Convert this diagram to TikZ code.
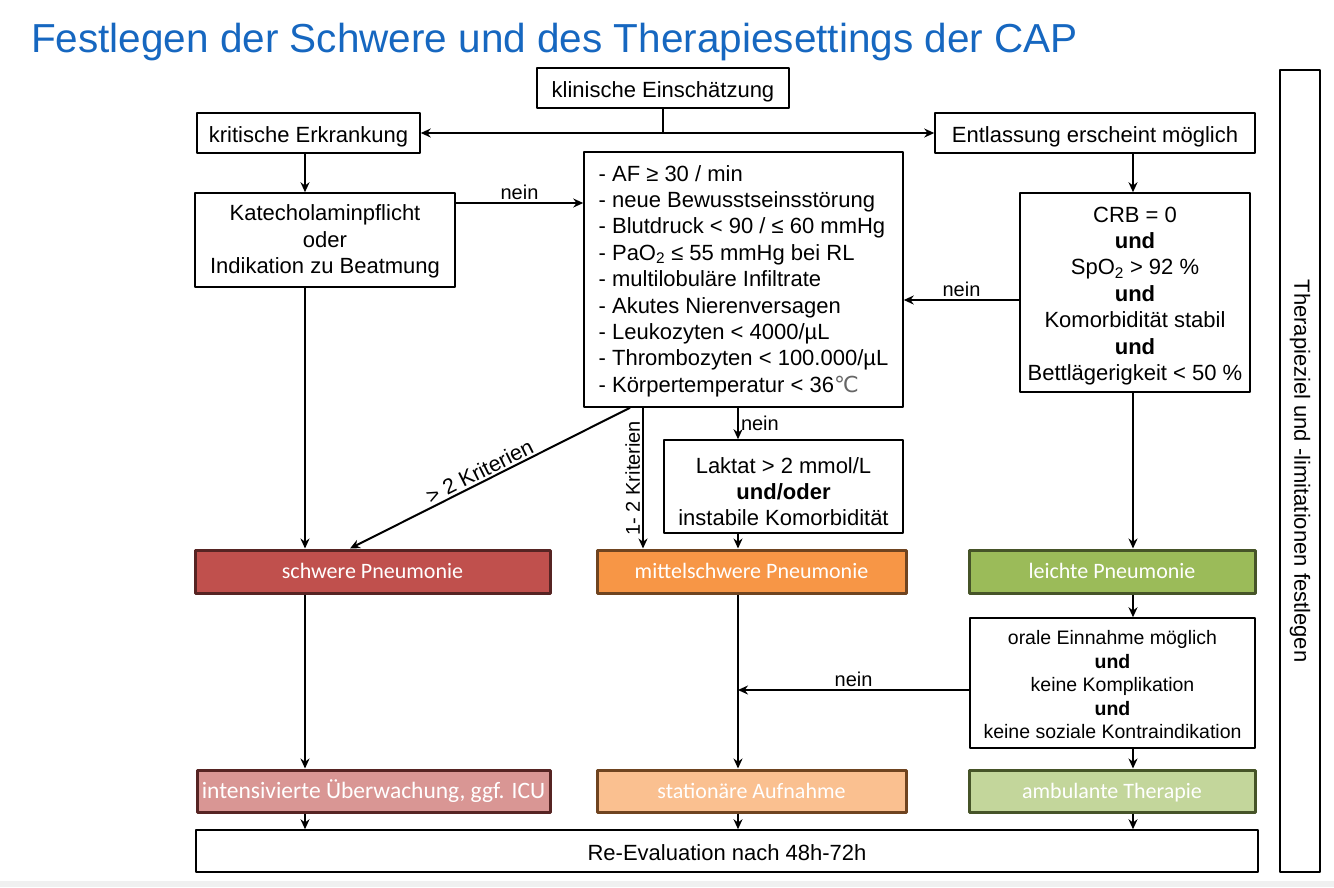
\documentclass[tikz,border=0pt]{standalone}
\usepackage{fontspec}
\setmainfont{Liberation Sans}
\newfontfamily\calibri{Carlito}
\newfontfamily\dejavu{DejaVu Sans}
\usetikzlibrary{arrows.meta}
\definecolor{titelblau}{RGB}{22,103,192}
\definecolor{rotA}{RGB}{192,80,77}
\definecolor{rotB}{RGB}{217,150,148}
\definecolor{orangeA}{RGB}{247,150,70}
\definecolor{orangeB}{RGB}{250,192,144}
\definecolor{gruenA}{RGB}{155,187,89}
\definecolor{gruenB}{RGB}{195,214,155}
\begin{document}
\begin{tikzpicture}[x=1pt,y=-1pt,line join=round,>={Stealth[length=10pt,width=9pt]},line width=2pt]
			\tikzset{box/.style={draw,line width=1.5pt,inner sep=0pt,align=center,font=\fontsize{22}{26.4}\selectfont},
				zeile/.style={text height=20pt,text depth=2pt},
				farbbox/.style 2 args={draw=#1!45!black,fill=#2,line width=3pt,inner sep=0pt,text=white,text height=17pt,text depth=3pt,font=\calibri\fontsize{22}{26}\selectfont},
				lbl/.style={font=\fontsize{20}{22}\selectfont,inner sep=2pt}}
			\useasboundingbox (0,0) rectangle (1334,887);
			\fill[black!6] (0,881) rectangle (1334,887);
			\node[anchor=base west,text=titelblau,font=\fontsize{40.5}{44}\selectfont,inner sep=0pt] (titel) at (30,52) {Festlegen der Schwere und des Therapiesettings der CAP};
			% obere Reihe
			\node[box,zeile,minimum width=252,minimum height=40] (klin) at (663,88) {klinische Einschätzung};
			\node[box,zeile,minimum width=223,minimum height=40] (krit) at (308.5,133) {kritische Erkrankung};
			\node[box,zeile,minimum width=320,minimum height=40] (entl) at (1095,133) {Entlassung erscheint möglich};
			\node[box,minimum width=260,minimum height=94] (kat) at (325,240) {\rule{0pt}{19pt}Katecholaminpflicht\\oder\\Indikation zu Beatmung};
			\node[box,minimum width=319,minimum height=255,align=left] (crit) at (743.5,279.5) {\rule{0pt}{19pt}- AF ≥ 30 / min\\- neue Bewusstseinsstörung\\- Blutdruck < 90 / ≤ 60 mmHg\\- PaO\textsubscript{2} ≤ 55 mmHg bei RL\\- multilobuläre Infiltrate\\- Akutes Nierenversagen\\- Leukozyten < 4000/µL\\- Thrombozyten < 100.000/µL\\- Körpertemperatur < 36{\dejavu\color{black!60}℃}};
			\node[box,minimum width=230,minimum height=199] (crb) at (1135,292.5) {\rule{0pt}{22pt}CRB = 0\\\textbf{und}\\SpO\textsubscript{2} > 92 \%\\\textbf{und}\\Komorbidität stabil\\\textbf{und}\\Bettlägerigkeit < 50 \%};
			\node[box,minimum width=239,minimum height=93] (lak) at (783.5,486.5) {\rule{0pt}{26pt}Laktat > 2 mmol/L\\\textbf{und/oder}\\instabile Komorbidität};
			% Schweregrade
			\node[farbbox={rotA}{rotA},minimum width=355,minimum height=43] (schwer) at (372.5,571.5) {schwere Pneumonie};
			\node[farbbox={orangeA}{orangeA},minimum width=309,minimum height=43] (mittel) at (751.5,571.5) {mittelschwere Pneumonie};
			\node[farbbox={gruenA}{gruenA},minimum width=286,minimum height=43] (leicht) at (1112,571.5) {leichte Pneumonie};
			\node[box,minimum width=285,minimum height=130,font=\fontsize{19.5}{23.5}\selectfont] (oral) at (1112.5,683) {\rule{0pt}{18pt}orale Einnahme möglich\\\textbf{und}\\keine Komplikation\\\textbf{und}\\keine soziale Kontraindikation};
			% Setting
			\node[farbbox={rotA}{rotB},minimum width=353,minimum height=42,font=\calibri\fontsize{23.5}{26}\selectfont] (intens) at (373.5,791) {intensivierte Überwachung, ggf. ICU};
			\node[farbbox={orangeA}{orangeB},minimum width=309,minimum height=42] (stat) at (751.5,791) {stationäre Aufnahme};
			\node[farbbox={gruenA}{gruenB},minimum width=286,minimum height=42] (amb) at (1112,791) {ambulante Therapie};
			\node[box,zeile,minimum width=1062,minimum height=42] (reeval) at (727,851) {Re-Evaluation nach 48h-72h};
			\node[box,minimum width=40,minimum height=802] (ziel) at (1300,471) {};
			\node[rotate=-90,font=\fontsize{22}{26}\selectfont] (zieltext) at (ziel.center) {Therapieziel und -limitationen festlegen};
			% Hilfspunkte
			\coordinate (xa) at (305,0);
			\coordinate (xb) at (738,0);
			\coordinate (xc) at (1133,0);
			\coordinate (xd) at (643,0);
			\coordinate (xe) at (630,0);
			\coordinate (xf) at (350,0);
			\coordinate (ya) at (0,203);
			\coordinate (yb) at (0,300);
			\coordinate (yc) at (0,690);
			% Pfeile
			\draw (klin.south) -- (klin.south |- krit.east);
			\draw[<->] (krit.east) -- (entl.west);
			\draw[->] (krit.south -| xa) -- (kat.north -| xa);
			\draw[->] (kat.east |- ya) -- node[lbl,above] {nein} (crit.west |- ya);
			\draw[->] (entl.south -| xc) -- (crb.north -| xc);
			\draw[->] (crb.west |- yb) -- node[lbl,above] {nein} (crit.east |- yb);
			\draw[->] (crit.south -| xb) -- node[lbl,right] {nein} (lak.north -| xb);
			\draw[->] (crit.south -| xd) -- node[lbl,rotate=90,anchor=south] {1- 2 Kriterien} (mittel.north -| xd);
			\draw[->] (crit.south -| xe) -- node[lbl,sloped,above,pos=0.52,font=\fontsize{21.5}{23}\selectfont] {> 2 Kriterien} (schwer.north -| xf);
			\draw[->] (lak.south -| xb) -- (mittel.north -| xb);
			\draw[->] (kat.south -| xa) -- (schwer.north -| xa);
			\draw[->] (crb.south -| xc) -- (leicht.north -| xc);
			\draw[->] (leicht.south -| xc) -- (oral.north -| xc);
			\draw[->] (oral.west |- yc) -- node[lbl,above] {nein} (xb |- yc);
			\draw[->] (schwer.south -| xa) -- (intens.north -| xa);
			\draw[->] (mittel.south -| xb) -- (stat.north -| xb);
			\draw[->] (oral.south -| xc) -- (amb.north -| xc);
			\foreach \von/\xx in {intens/xa,stat/xb,amb/xc}
			\draw[->] (\von.south -| \xx) -- (reeval.north -| \xx);
		\end{tikzpicture}
\end{document}
